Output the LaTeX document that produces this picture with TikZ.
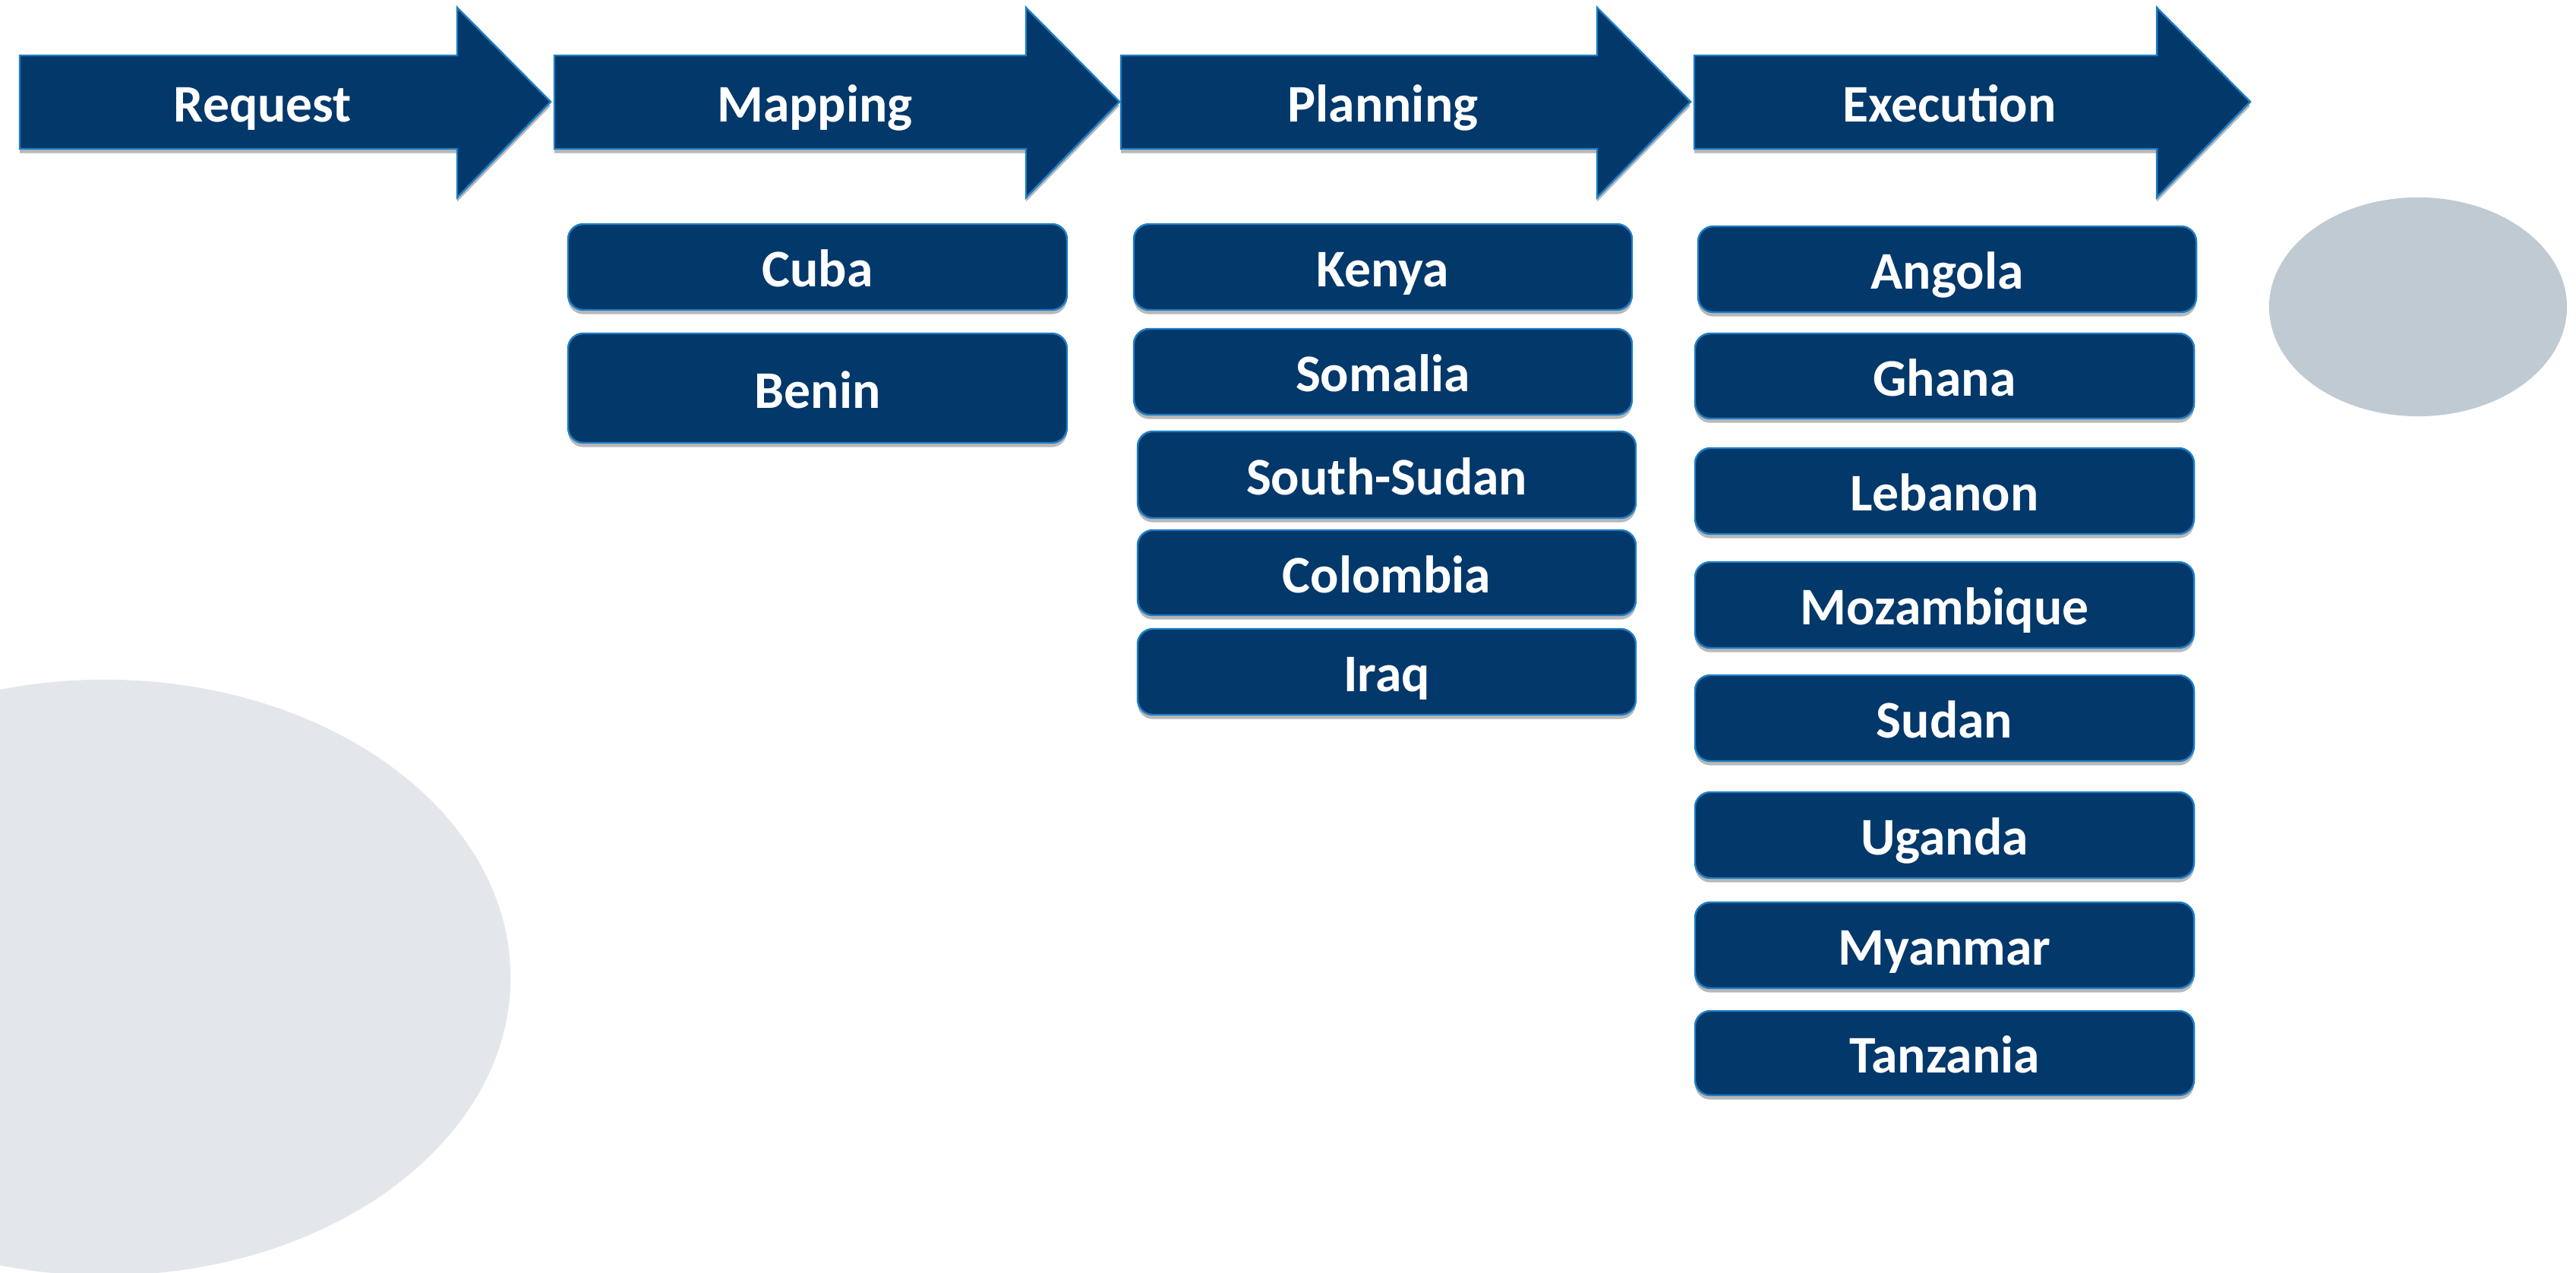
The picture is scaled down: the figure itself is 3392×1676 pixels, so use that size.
\documentclass[tikz,border=0pt]{standalone}
\usepackage{fontspec}
\setmainfont{Carlito}
\usetikzlibrary{shadows}
\definecolor{navyfill}{RGB}{3,56,107}
\definecolor{edgeblue}{RGB}{30,125,195}
\definecolor{ellgray}{RGB}{227,231,236}
\definecolor{ellblue}{RGB}{192,202,211}
\tikzset{
  softshadow/.style={drop shadow={shadow xshift=0pt,shadow yshift=-1.6pt,opacity=0.28,fill=black}},
  arrowshape/.style={fill=navyfill,draw=edgeblue,line width=0.7pt,line join=miter,softshadow},
  stagetext/.style={text=white,font=\bfseries\fontsize{19.8}{23}\selectfont,inner sep=0pt,text height=15pt,text depth=0pt},
  cbox/.style={rectangle,rounded corners=0.2cm,fill=navyfill,draw=edgeblue,line width=0.7pt,softshadow,
    text=white,font=\bfseries\fontsize{19.8}{23}\selectfont,inner sep=0pt,outer sep=0pt,
    text height=15pt,text depth=0pt,align=center}
}
\newcommand\countrybox[6]{%
  \node[cbox,minimum width={(#4-#2)*0.01cm},minimum height={(#5-#3)*0.01cm}] (#1) at ({(#2+#4)/2},{(#3+#5)/2}) {#6};}
\newcommand\stagearrow[6]{%
  \draw[arrowshape] (#2,73) -- (#3,73) -- (#3,10) -- (#4,134) -- (#3,260) -- (#3,196) -- (#2,196) -- cycle;
  \node[stagetext] (#1) at (#5,134) {#6};}
\begin{document}
\begin{tikzpicture}[x=0.01cm,y=-0.01cm]
\useasboundingbox (0,0) rectangle (3392,1676);
\clip (0,0) rectangle (3392,1676);
\fill[white] (0,0) rectangle (3392,1676);
% background ellipses
\fill[ellgray] (138,1287) ellipse [x radius=5.34cm,y radius=3.92cm];
\fill[ellblue] (3184,404) ellipse [x radius=1.96cm,y radius=1.44cm];
% stage arrows
\stagearrow{request}{26}{602}{725}{346}{Request}
\stagearrow{mapping}{730}{1351}{1474}{1073}{Mapping}
\stagearrow{planning}{1476}{2103}{2226}{1821}{Planning}
\stagearrow{execution}{2231}{2840}{2963}{2567}{Execution}
% Mapping
\countrybox{cuba}{748}{295}{1405}{408}{Cuba}
\countrybox{benin}{748}{439}{1405}{583}{Benin}
% Planning
\countrybox{kenya}{1493}{295}{2149}{408}{Kenya}
\countrybox{somalia}{1493}{433}{2149}{546}{Somalia}
\countrybox{southsudan}{1498}{568}{2154}{682}{South-Sudan}
\countrybox{colombia}{1498}{698}{2154}{810}{Colombia}
\countrybox{iraq}{1498}{828}{2154}{941}{Iraq}
% Execution
\countrybox{angola}{2236}{298}{2892}{411}{Angola}
\countrybox{ghana}{2232}{439}{2889}{551}{Ghana}
\countrybox{lebanon}{2232}{590}{2889}{703}{Lebanon}
\countrybox{mozambique}{2232}{740}{2889}{853}{Mozambique}
\countrybox{sudan}{2232}{889}{2889}{1002}{Sudan}
\countrybox{uganda}{2232}{1043}{2889}{1156}{Uganda}
\countrybox{myanmar}{2232}{1188}{2889}{1301}{Myanmar}
\countrybox{tanzania}{2232}{1331}{2889}{1442}{Tanzania}
\end{tikzpicture}
\end{document}
